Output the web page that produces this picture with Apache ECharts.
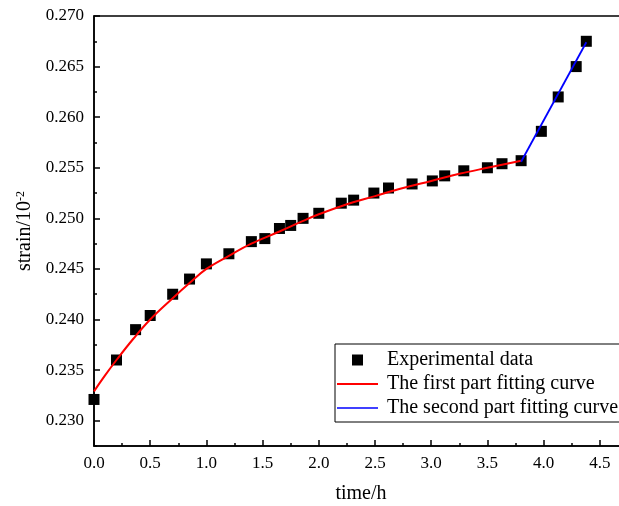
<!DOCTYPE html>
<html>
<head>
<meta charset="utf-8">
<script src="https://cdn.jsdelivr.net/npm/echarts@6/dist/echarts.min.js"></script>
<style>
  html, body { margin: 0; padding: 0; background: #fff; }
  #chart { width: 619px; height: 506px; }
</style>
</head>
<body>
<div id="chart"></div>
<script>
// Creep test: measured strain over time
const timeData = [0, 0.2, 0.37, 0.5, 0.7, 0.85, 1.0, 1.2, 1.4, 1.52, 1.65, 1.75, 1.86, 2.0,
  2.2, 2.31, 2.49, 2.62, 2.83, 3.01, 3.12, 3.29, 3.5, 3.63, 3.8, 3.98, 4.13, 4.29, 4.38];
const strainData = [0.2321, 0.2360, 0.2390, 0.2404, 0.2425, 0.2440, 0.2455, 0.2465, 0.2477,
  0.2480, 0.2490, 0.2493, 0.2500, 0.2505, 0.2515, 0.2518, 0.2525, 0.2530, 0.2534, 0.2537,
  0.2542, 0.2547, 0.2550, 0.2554, 0.2557, 0.2586, 0.2620, 0.2650, 0.2675];

// First fitted segment (decelerating stage)
const fit1Time = [0, 0.1, 0.2, 0.35, 0.5, 0.7, 0.85, 1.0, 1.2, 1.4, 1.65, 1.85, 2.0, 2.25,
  2.5, 2.75, 3.0, 3.25, 3.5, 3.8];
const fit1Strain = [0.2329, 0.2345, 0.2360, 0.2381, 0.2400, 0.2421, 0.2436, 0.2450, 0.2463,
  0.2475, 0.2487, 0.2497, 0.2504, 0.2514, 0.2522, 0.2530, 0.2537, 0.2544, 0.2550, 0.2557];

// Second fitted segment (accelerating stage)
const fit2Time = [3.8, 4.38];
const fit2Strain = [0.2556, 0.2674];

const yMajorTicks = [0.230, 0.235, 0.240, 0.245, 0.250, 0.255, 0.260, 0.265, 0.270];
const xLabelTicks = [0, 0.5, 1.0, 1.5, 2.0, 2.5, 3.0, 3.5, 4.0, 4.5];

const legendNames = ['Experimental data', 'The first part fitting curve', 'The second part fitting curve'];

const zip = (xs, ys) => xs.map((x, i) => [x, ys[i]]);
const serif = '"Liberation Serif", "Times New Roman", serif';

const chart = echarts.init(document.getElementById('chart'), null, { renderer: 'canvas' });

chart.setOption({
  backgroundColor: '#fff',
  animation: false,
  grid: {
    left: 94, top: 16, width: 562, height: 430,
    outerBoundsMode: 'none',
    containLabel: false,
    show: true, borderColor: '#000', borderWidth: 1.5, backgroundColor: 'transparent'
  },
  legend: {
    data: [
      { name: legendNames[0], icon: 'path://M0,0H10V10H0Z' },
      { name: legendNames[1], icon: 'path://M0,0H40V2H0Z' },
      { name: legendNames[2], icon: 'path://M0,0H40V1.6H0Z' }
    ],
    orient: 'vertical',
    left: 335, top: 344,
    padding: [6, 40, 4, 2],
    itemWidth: 41, itemHeight: 11, itemGap: 4,
    borderColor: '#000', borderWidth: 1,
    backgroundColor: '#fff',
    textStyle: { fontFamily: serif, fontSize: 20, color: '#000', lineHeight: 20, padding: [0, 0, 0, 4] }
  },
  xAxis: {
    type: 'value',
    min: 0, max: 5, interval: 0.5,
    name: 'time/h',
    nameLocation: 'middle',
    nameGap: 38,
    nameTextStyle: { fontFamily: serif, fontSize: 20, color: '#000', padding: [0, 28, 0, 0] },
    axisLine: { show: true, lineStyle: { color: '#000', width: 1.5 } },
    axisTick: { show: true, inside: true, length: 6, lineStyle: { color: '#000', width: 1.5 } },
    minorTick: { show: true, splitNumber: 2, length: 3, lineStyle: { color: '#000', width: 1.5 } },
    axisLabel: {
      customValues: xLabelTicks,
      fontFamily: serif, fontSize: 17, color: '#000', margin: 9,
      formatter: v => v.toFixed(1)
    },
    splitLine: { show: false }
  },
  yAxis: [{
    type: 'value',
    min: 0.2275, max: 0.270,
    name: 'strain/10{sup|-2}',
    nameLocation: 'middle',
    nameGap: 58,
    nameRotate: 90,
    nameTextStyle: {
      fontFamily: serif, fontSize: 20, color: '#000',
      rich: { sup: { fontFamily: serif, fontSize: 12, color: '#000', verticalAlign: 'top', padding: [0, 0, 8, 0] } }
    },
    axisLine: { show: true, lineStyle: { color: '#000', width: 1.5 } },
    axisTick: { show: true, inside: true, length: 6, customValues: yMajorTicks, lineStyle: { color: '#000', width: 1.5 } },
    axisLabel: {
      customValues: yMajorTicks,
      fontFamily: serif, fontSize: 17, color: '#000', margin: 10,
      formatter: v => v.toFixed(3)
    },
    splitLine: { show: false }
  }, {
    // minor ticks every 0.0025 along the left edge
    type: 'value',
    position: 'left',
    min: 0.2275, max: 0.270, interval: 0.0025,
    axisLine: { show: false },
    axisTick: { show: true, inside: true, length: 3, lineStyle: { color: '#000', width: 1.5 } },
    axisLabel: { show: false },
    splitLine: { show: false }
  }],
  series: [{
    name: legendNames[0],
    type: 'scatter',
    data: zip(timeData, strainData),
    symbol: 'rect',
    symbolSize: 11,
    itemStyle: { color: '#000', opacity: 1 },
    z: 2
  }, {
    name: legendNames[1],
    type: 'line',
    data: zip(fit1Time, fit1Strain),
    smooth: 0.4,
    showSymbol: false,
    symbol: 'none',
    lineStyle: { color: '#ff0000', width: 2 },
    itemStyle: { color: '#ff0000' },
    z: 3
  }, {
    name: legendNames[2],
    type: 'line',
    data: zip(fit2Time, fit2Strain),
    showSymbol: false,
    symbol: 'none',
    lineStyle: { color: '#0000ff', width: 1.8 },
    itemStyle: { color: '#0000ff' },
    z: 3
  }]
});
</script>
</body>
</html>
